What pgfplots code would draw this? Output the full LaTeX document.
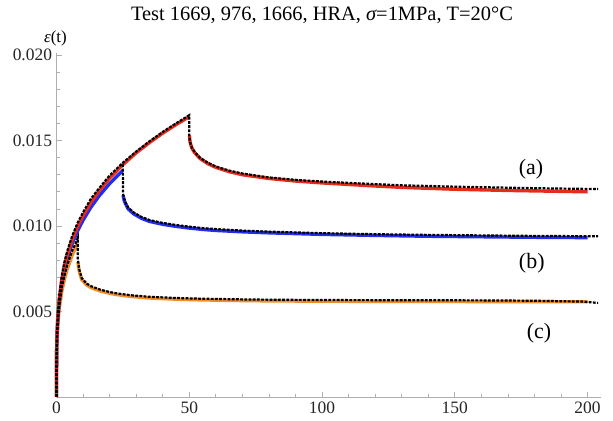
\documentclass[border=0pt]{standalone}
\usepackage{pgfplots}
\pgfplotsset{compat=1.18}
\usepackage{fontspec}
\setmainfont{Liberation Serif}
\definecolor{fitred}{RGB}{228,45,28}
\definecolor{fitblue}{RGB}{35,45,240}
\definecolor{fitorange}{RGB}{238,142,45}
\definecolor{axgray}{RGB}{175,175,175}
\begin{document}
\begin{tikzpicture}
\useasboundingbox (0,0) rectangle (613bp,421bp);
\begin{axis}[
  at={(56.5bp,24bp)}, anchor=south west,
  scale only axis, width=544.3bp, height=343.7bp,
  xmin=0, xmax=205, ymin=0, ymax=0.0201,
  axis lines=left, axis line style={axgray, line width=0.8bp, -},
  clip=false,
  xtick={0,50,100,150,200},
  ytick={0.005,0.010,0.015,0.020},
  minor x tick num=4, minor y tick num=4,
  tick align=inside,
  major tick length=5bp, minor tick length=3bp,
  tick style={axgray, line width=0.7bp},
  /pgf/number format/assume math mode=true,
  yticklabel style={/pgf/number format/fixed, /pgf/number format/fixed zerofill, /pgf/number format/precision=3, xshift=-1bp},
  scaled y ticks=false,
  ticklabel style={font=\fontsize{17.5}{20}\selectfont, text=black!85},
  xticklabel style={yshift=-1bp},
]
% ---- fitted curves ----
\addplot[fitorange, line width=3.4bp, line join=round] coordinates {
(0,0)(0.001,0.00079)(0.01,0.00148)(0.05,0.00229)(0.1,0.00275)(0.2,0.00332)(0.5,0.00426)(1,0.00513)(2,0.00618)(3,0.0069)(4,0.00746)(6,0.00833)(8,0.00899)
};
\addplot[fitorange, line width=3.4bp, line join=round] coordinates {
(8.05,0.0079)(8.5,0.0074)(9.5,0.00686)(11.4,0.00655)(13,0.0064)(16.4,0.0062)(20,0.00607)(22.7,0.00599)(28,0.00588)(35,0.00579)(45,0.00572)(54,0.00568)(73,0.00563)(100,0.0056)(130,0.00559)(160,0.00558)(200,0.00557)
};
\addplot[fitblue, line width=3.4bp, line join=round] coordinates {
(0,0)(0.001,0.00086)(0.01,0.0016)(0.05,0.00248)(0.1,0.00298)(0.2,0.0036)(0.5,0.00461)(1,0.00556)(2,0.0067)(3,0.00748)(4,0.00808)(6,0.00902)(8,0.00974)(10,0.01034)(13,0.01111)(16,0.01175)(20,0.01248)(25,0.01325)
};
\addplot[fitblue, line width=3.4bp, line join=round] coordinates {
(25.05,0.0118)(25.5,0.0115)(26,0.0113)(27,0.0110)(29,0.01072)(32,0.01045)(35,0.01027)(40,0.0101)(45,0.00998)(50,0.00988)(55,0.0098)(60,0.00974)(70,0.00966)(80,0.0096)(100,0.00951)(120,0.00945)(140,0.0094)(160,0.00937)(180,0.00934)(200,0.00932)
};
\addplot[fitred, line width=3.4bp, line join=round] coordinates {
(0,0)(0.001,0.00088)(0.01,0.00164)(0.05,0.00254)(0.1,0.00306)(0.2,0.00369)(0.5,0.00473)(1,0.0057)(2,0.00687)(3,0.00767)(4,0.00829)(6,0.00925)(8,0.00999)(10,0.01061)(13,0.01139)(16,0.01205)(20,0.0128)(25,0.01359)(30,0.01428)(35,0.01488)(40,0.01543)(45,0.01593)(50,0.01639)
};
\addplot[fitred, line width=3.4bp, line join=round] coordinates {
(50.05,0.0153)(50.3,0.0149)(51,0.01455)(52,0.0143)(54,0.01395)(57,0.01365)(60,0.01343)(65,0.01318)(70,0.013)(80,0.01278)(90,0.01263)(100,0.01252)(110,0.01243)(120,0.01234)(130,0.01226)(150,0.01215)(170,0.01208)(185,0.01204)(200,0.012)
};
% ---- experimental data ----
\addplot[black, line width=2.2bp, dash pattern=on 2.8bp off 1.4bp] coordinates {
(0,0)(0.002,0.0012)(0.01,0.0018)(0.05,0.0028)(0.1,0.0033)(0.3,0.0042)(0.6,0.005)(1,0.0058)(2,0.0071)(3,0.0079)(4,0.0085)(5,0.009)(6,0.00945)(8,0.0102)(10,0.0108)(13,0.0116)(16,0.0122)(20,0.01295)(25,0.0137)(30,0.01435)(35,0.01495)(40,0.0155)(45,0.016)(50,0.01648)
(50.02,0.0152)(50.5,0.0148)(51,0.01458)(52,0.01434)(54,0.014)(57,0.0137)(60,0.01348)(65,0.01324)(70,0.01307)(80,0.01284)(90,0.0127)(100,0.0126)(110,0.01252)(120,0.01245)(130,0.01238)(150,0.0123)(170,0.01224)(185,0.0122)(204,0.01216)
};
\addplot[black, line width=2.2bp, dash pattern=on 2.8bp off 1.4bp] coordinates {
(25,0.0136)(25.02,0.0119)(25.5,0.0116)(26,0.01138)(27,0.01108)(29,0.0108)(32,0.01053)(35,0.01035)(40,0.01018)(45,0.01006)(50,0.00996)(55,0.00988)(60,0.00982)(70,0.00973)(80,0.00967)(100,0.00958)(120,0.00952)(140,0.00948)(160,0.00945)(180,0.00942)(204,0.0094)
};
\addplot[black, line width=2.2bp, dash pattern=on 2.8bp off 1.4bp] coordinates {
(0,0)(0.002,0.0011)(0.05,0.0025)(0.3,0.0039)(1,0.0053)(2,0.0064)(3,0.0071)(4,0.0077)(6,0.0086)(7,0.0089)(8,0.0093)
(8.02,0.0081)(8.5,0.0075)(9.5,0.00695)(11.4,0.00663)(13,0.00648)(16.4,0.00628)(20,0.00614)(22.7,0.00606)(28,0.00595)(35,0.00586)(45,0.00579)(54,0.00575)(73,0.0057)(100,0.00567)(130,0.00566)(160,0.00565)(180,0.00563)(190,0.0056)(198,0.00558)(204,0.0055)
};
% ---- curve labels ----
\node[font=\fontsize{22}{24}\selectfont] at (axis cs:178.7,0.01333) {(a)};
\node[font=\fontsize{22}{24}\selectfont] at (axis cs:179,0.00784) {(b)};
\node[font=\fontsize{22}{24}\selectfont] at (axis cs:181.7,0.00374) {(c)};
\end{axis}
\node[font=\fontsize{20.5}{23}\selectfont] at (322bp,406bp) {Test 1669, 976, 1666, HRA, {\itshape σ}=1MPa, T=20°C};
\node[font=\fontsize{17}{19}\selectfont] at (55.5bp,383bp) {{\itshape ε}(t)};
\end{tikzpicture}
\end{document}
